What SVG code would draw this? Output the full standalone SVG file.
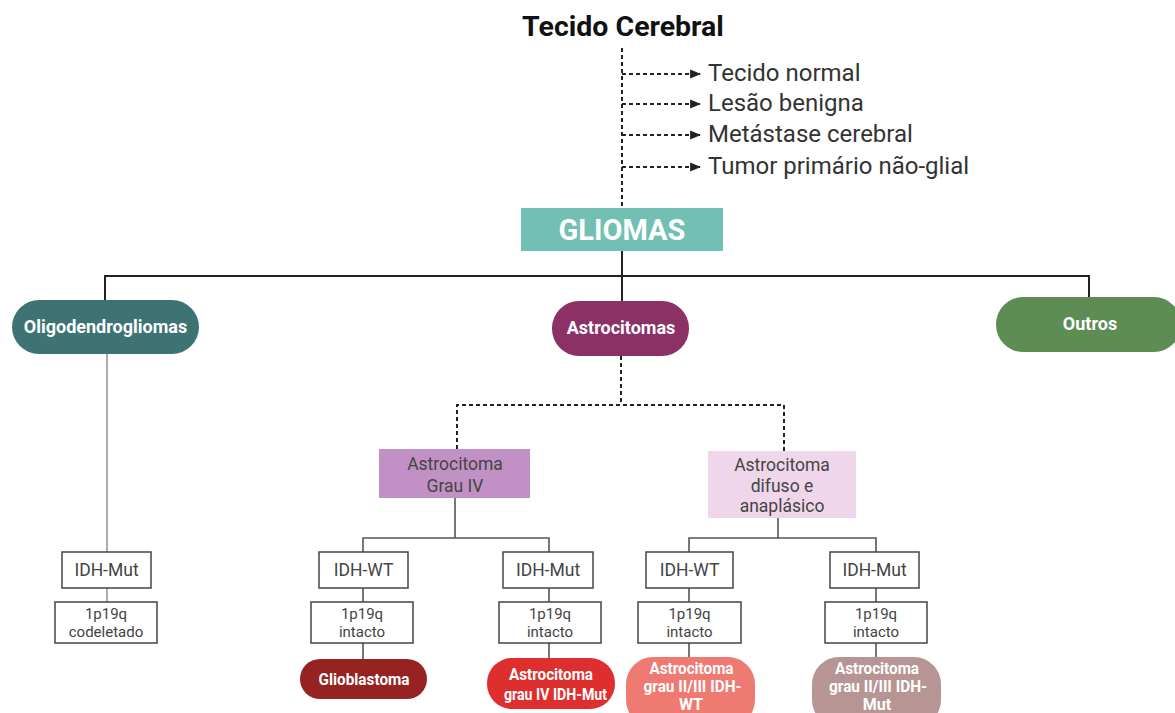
<svg xmlns="http://www.w3.org/2000/svg" width="1175" height="713" viewBox="0 0 1175 713">
<style>
text{font-family:Roboto,"Liberation Sans",sans-serif;}
.title{font-size:28.5px;font-weight:bold;fill:#111;text-anchor:middle;}
.out{font-size:24px;fill:#333;}
.pillt{font-weight:bold;fill:#fff;text-anchor:middle;}
.bt{font-weight:bold;fill:#fff;text-anchor:middle;font-size:16px;}
.boxt{font-size:17.5px;fill:#444;text-anchor:middle;}
.smt{font-size:15px;fill:#444;text-anchor:middle;}
.sm{fill:#fff;stroke:#444;stroke-width:1.5;}
.solid{fill:none;stroke:#222;stroke-width:2;}
.gray{fill:none;stroke:#555;stroke-width:1.6;}
.light{fill:none;stroke:#999;stroke-width:1.6;}
.dash{fill:none;stroke:#222;stroke-width:2;stroke-dasharray:4 3;}
</style>
<defs>
<marker id="ah" viewBox="0 0 10 10" refX="9" refY="5" markerWidth="11" markerHeight="11" markerUnits="userSpaceOnUse" orient="auto">
<path d="M0,1 L10,5 L0,9 Z" fill="#222"/>
</marker>
</defs>

<g id="connectors">
<path class="dash" d="M622,48 V207"/>
<path class="dash" d="M622,74 H700" marker-end="url(#ah)"/>
<path class="dash" d="M622,104 H700" marker-end="url(#ah)"/>
<path class="dash" d="M622,135 H700" marker-end="url(#ah)"/>
<path class="dash" d="M622,167 H700" marker-end="url(#ah)"/>
<path class="solid" d="M622,251 V301"/>
<path class="solid" d="M105,300 V276 H1089 V297"/>
<path class="dash" d="M621,356 V405 M457,449 V405 H784 V451"/>
<path class="light" d="M107,354 V552 M107,588 V602"/>
<path class="gray" d="M455,498 V538 M363,552 V538 H549 V552 M363,588 V602 M363,643 V660 M549,588 V602 M549,643 V658"/>
<path class="gray" d="M778,518 V538 M689,552 V538 H876 V552 M689,588 V602 M689,643 V657 M876,588 V602 M876,643 V657"/>
</g>

<g id="title"><text class="title" x="623" y="36">Tecido Cerebral</text></g>
<g id="out1"><text class="out" x="708" y="81">Tecido normal</text></g>
<g id="out2"><text class="out" x="708" y="111">Lesão benigna</text></g>
<g id="out3"><text class="out" x="708" y="142">Metástase cerebral</text></g>
<g id="out4"><text class="out" x="708" y="174">Tumor primário não-glial</text></g>

<g id="gliomas">
<rect x="521" y="208" width="202" height="43" fill="#72bfb4"/>
<text class="pillt" x="622" y="240" font-size="29">GLIOMAS</text>
</g>

<g id="oligo">
<rect x="12" y="300" width="187" height="54" rx="27" fill="#3d7373"/>
<text class="pillt" x="105.5" y="333" font-size="18">Oligodendrogliomas</text>
</g>
<g id="astro">
<rect x="552" y="301" width="137" height="55" rx="27" fill="#8b3166"/>
<text class="pillt" x="621" y="334" font-size="18">Astrocitomas</text>
</g>
<g id="outros">
<rect x="996" y="297" width="185" height="55" rx="27" fill="#5e8c55"/>
<text class="pillt" x="1090" y="330" font-size="18">Outros</text>
</g>

<g id="grau4">
<rect x="379" y="449" width="151" height="49" fill="#c191c5"/>
<text class="boxt" x="455" y="470">Astrocitoma</text>
<text class="boxt" x="455" y="492">Grau IV</text>
</g>
<g id="difuso">
<rect x="708" y="451" width="148" height="67" fill="#f0d6ea"/>
<text class="boxt" x="782" y="471">Astrocitoma</text>
<text class="boxt" x="782" y="492">difuso e</text>
<text class="boxt" x="782" y="512">anaplásico</text>
</g>

<g id="oligo-idh">
<rect class="sm" x="62" y="552" width="89" height="36"/>
<text class="boxt" x="106.5" y="576">IDH-Mut</text>
</g>
<g id="oligo-1p19q">
<rect class="sm" x="55" y="602" width="102" height="41"/>
<text class="smt" x="106" y="619">1p19q</text>
<text class="smt" x="106" y="637">codeletado</text>
</g>

<g id="g4-idhwt">
<rect class="sm" x="319" y="552" width="89" height="36"/>
<text class="boxt" x="363.5" y="576">IDH-WT</text>
</g>
<g id="g4-idhwt-1p19q">
<rect class="sm" x="311" y="602" width="102" height="41"/>
<text class="smt" x="362" y="619">1p19q</text>
<text class="smt" x="362" y="637">intacto</text>
</g>
<g id="glioblastoma">
<rect x="300" y="659" width="127" height="40" rx="20" fill="#962222"/>
<text class="bt" x="364" y="685" textLength="91" lengthAdjust="spacingAndGlyphs">Glioblastoma</text>
</g>

<g id="g4-idhmut">
<rect class="sm" x="503" y="552" width="90" height="36"/>
<text class="boxt" x="548" y="576">IDH-Mut</text>
</g>
<g id="g4-idhmut-1p19q">
<rect class="sm" x="499" y="602" width="102" height="41"/>
<text class="smt" x="550" y="619">1p19q</text>
<text class="smt" x="550" y="637">intacto</text>
</g>
<g id="astro4mut">
<rect x="487" y="658" width="128" height="51" rx="25" fill="#df2e2e"/>
<text class="bt" x="551" y="680" textLength="84" lengthAdjust="spacingAndGlyphs">Astrocitoma</text>
<text class="bt" x="555.5" y="700" textLength="103" lengthAdjust="spacingAndGlyphs">grau IV IDH-Mut</text>
</g>

<g id="df-idhwt">
<rect class="sm" x="646" y="552" width="87" height="36"/>
<text class="boxt" x="689.5" y="576">IDH-WT</text>
</g>
<g id="df-idhwt-1p19q">
<rect class="sm" x="638" y="602" width="103" height="41"/>
<text class="smt" x="689.5" y="619">1p19q</text>
<text class="smt" x="689.5" y="637">intacto</text>
</g>
<g id="astro23wt">
<rect x="626" y="657" width="129" height="70" rx="27" fill="#ee7a72"/>
<text class="bt" x="691.5" y="674" textLength="84" lengthAdjust="spacingAndGlyphs">Astrocitoma</text>
<text class="bt" x="692.5" y="692" textLength="98" lengthAdjust="spacingAndGlyphs">grau II/III IDH-</text>
<text class="bt" x="691" y="710">WT</text>
</g>

<g id="df-idhmut">
<rect class="sm" x="830" y="552" width="89" height="36"/>
<text class="boxt" x="874.5" y="576">IDH-Mut</text>
</g>
<g id="df-idhmut-1p19q">
<rect class="sm" x="825" y="602" width="102" height="41"/>
<text class="smt" x="876" y="619">1p19q</text>
<text class="smt" x="876" y="637">intacto</text>
</g>
<g id="astro23mut">
<rect x="812" y="657" width="129" height="70" rx="27" fill="#b89595"/>
<text class="bt" x="877" y="674" textLength="84" lengthAdjust="spacingAndGlyphs">Astrocitoma</text>
<text class="bt" x="878" y="692" textLength="98" lengthAdjust="spacingAndGlyphs">grau II/III IDH-</text>
<text class="bt" x="877" y="710">Mut</text>
</g>
</svg>
